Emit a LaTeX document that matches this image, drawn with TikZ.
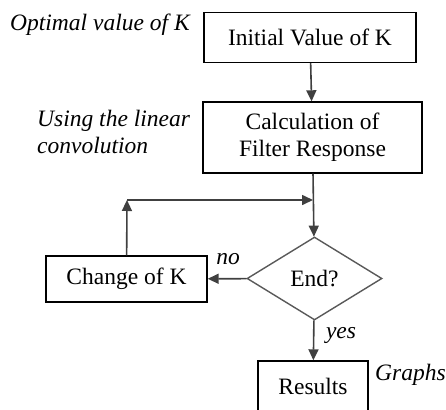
\documentclass[tikz,border=0pt]{standalone}
\usepackage{fontspec}
\setmainfont{Liberation Serif}
\usetikzlibrary{shapes.geometric}
\usetikzlibrary{arrows.meta}
\tikzset{blockbox/.style={draw=black,line width=1.4pt,inner sep=0pt,align=center},
         decision/.style={diamond,draw=black!65,line width=1.4pt,inner sep=0pt,aspect=1.6},
         flowline/.style={draw=black!75,line width=1.6pt,-{Triangle[length=11pt,width=10pt]}},
         remark/.style={inner sep=0pt,font=\fontsize{23.5}{27}\selectfont\itshape}}

\begin{document}
\begin{tikzpicture}[x=1pt,y=-1pt,font=\fontsize{23.5}{27}\selectfont]
\useasboundingbox (0,0) rectangle (446,409);
\node[blockbox,minimum width=212pt,minimum height=50pt] (init) at (310,37.5) {Initial Value of K};
\node[blockbox,minimum width=219pt,minimum height=71pt] (calc) at (312.5,137.5) {Calculation of\\Filter Response};
\node[decision,minimum width=135pt,minimum height=83pt] (finish) at (314.5,278.5) {End?};
\node[blockbox,minimum width=161pt,minimum height=46pt] (change) at (126.5,279) {Change of K};
\node[blockbox,minimum width=110pt,minimum height=50pt] (result) at (313,386) {Results};
\coordinate (corner) at (127,200);
\coordinate (join) at (313,200);
\draw[flowline] (init) -- (calc);
\draw[flowline] (calc) -- (finish);
\draw[flowline] (finish) -- (change);
\draw[flowline] (finish) -- (result);
\draw[flowline] (change) -- (corner);
\draw[flowline] (corner) -- (join);
\node[remark,anchor=west] (optlbl) at (10,25) {Optimal value of K};
\node[remark,anchor=west,align=left] (convlbl) at (37,131.5) {Using the linear\\convolution};
\node[remark] (nolbl) at (228,259) {no};
\node[remark] (yeslbl) at (341,335) {yes};
\node[remark,anchor=west] (graphlbl) at (375,375) {Graphs};
\end{tikzpicture}
\end{document}
